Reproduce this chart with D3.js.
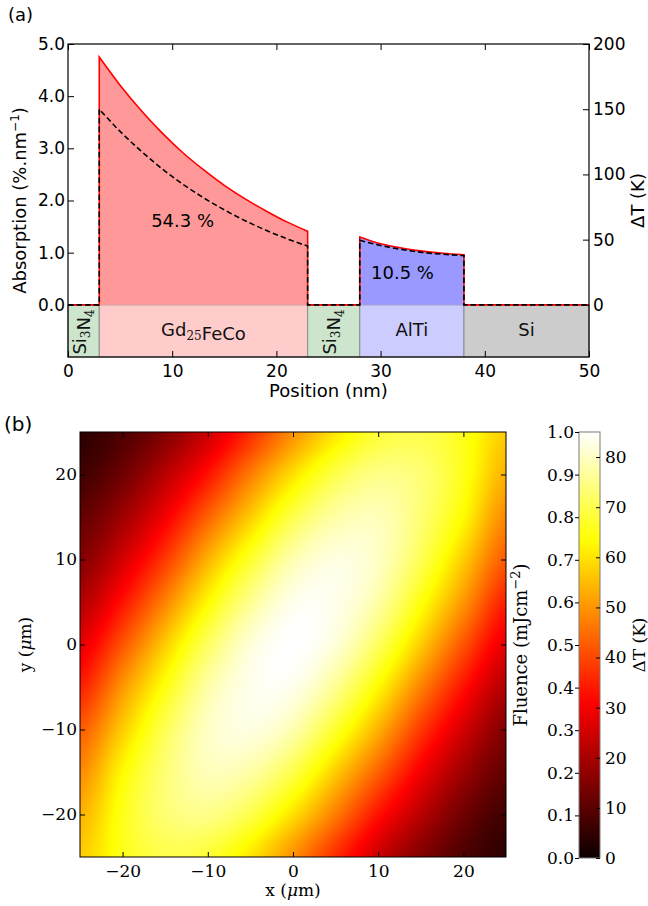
<!DOCTYPE html>
<html>
<head>
<meta charset="utf-8">
<script src="https://cdn.jsdelivr.net/npm/d3@7"></script>
<style>
body { margin: 0; background: #fff; }
svg { display: block; }
</style>
</head>
<body>
<div id="chart"></div>
<script>

// ---------- panel (a) data ----------
var layerNames = ["Si3N4", "Gd25FeCo", "Si3N4", "AlTi", "Si"];
var layerStart = [0, 3, 23, 28, 38];
var layerEnd = [3, 23, 28, 38, 50];

// absorption profile (%/nm) and temperature rise (K) inside the absorbing layers
var gdPos = [3, 5, 7, 9, 11, 13, 15, 17, 19, 21, 23];
var gdAbsorption = [4.75, 4.21, 3.73, 3.30, 2.92, 2.59, 2.29, 2.03, 1.80, 1.59, 1.41];
var gdDeltaT = [150, 133, 118, 104.5, 92.6, 82.1, 72.8, 64.5, 57.2, 50.7, 45.0];
var altiPos = [28, 30, 32, 34, 36, 38];
var altiAbsorption = [1.30, 1.17, 1.09, 1.03, 0.99, 0.96];
var altiDeltaT = [49.5, 45.5, 42.5, 40.2, 38.8, 37.8];
var absorbedTotals = ["54.3 %", "10.5 %"];

var absTicks = [0, 1, 2, 3, 4, 5];
var dTTicks = [0, 50, 100, 150, 200];
var posTicks = [0, 10, 20, 30, 40, 50];

// ---------- panel (b) data ----------
var gridX = [-25, -20, -15, -10, -5, 0, 5, 10, 15, 20, 25];
var gridY = [25, 20, 15, 10, 5, 0, -5, -10, -15, -20, -25];
// fluence (mJ/cm2), rows from y = 25 down to y = -25
var fluence = [
  [0.05, 0.10, 0.18, 0.29, 0.43, 0.58, 0.71, 0.80, 0.82, 0.77, 0.67],
  [0.08, 0.15, 0.26, 0.39, 0.55, 0.70, 0.82, 0.88, 0.86, 0.77, 0.63],
  [0.13, 0.22, 0.35, 0.51, 0.67, 0.82, 0.91, 0.93, 0.86, 0.74, 0.57],
  [0.18, 0.30, 0.45, 0.63, 0.79, 0.92, 0.97, 0.94, 0.83, 0.67, 0.50],
  [0.25, 0.39, 0.56, 0.74, 0.89, 0.98, 0.98, 0.91, 0.76, 0.59, 0.41],
  [0.33, 0.49, 0.67, 0.84, 0.96, 1.00, 0.96, 0.84, 0.67, 0.49, 0.33],
  [0.41, 0.59, 0.76, 0.91, 0.98, 0.98, 0.89, 0.74, 0.56, 0.39, 0.25],
  [0.50, 0.67, 0.83, 0.94, 0.97, 0.92, 0.79, 0.63, 0.45, 0.30, 0.18],
  [0.57, 0.74, 0.86, 0.93, 0.91, 0.82, 0.67, 0.51, 0.35, 0.22, 0.13],
  [0.63, 0.77, 0.86, 0.88, 0.82, 0.70, 0.55, 0.39, 0.26, 0.15, 0.08],
  [0.67, 0.77, 0.82, 0.80, 0.71, 0.58, 0.43, 0.29, 0.18, 0.10, 0.05]
];
var mapTicks = [-20, -10, 0, 10, 20];
var fluenceTicks = [0, 0.1, 0.2, 0.3, 0.4, 0.5, 0.6, 0.7, 0.8, 0.9, 1.0];
var cbarDeltaTTicks = [0, 10, 20, 30, 40, 50, 60, 70, 80];
var deltaTAtPeak = 85;

var sans = "DejaVu Sans", serif = "DejaVu Serif";

var svg = d3.select("#chart").append("svg")
  .attr("width", 648).attr("height", 906)
  .attr("font-family", sans);

// ================= panel (a) =================
var xA = d3.scaleLinear().domain([0, 50]).range([68, 589]);
var yA = d3.scaleLinear().domain([-1, 5]).range([357, 44]);
var yT = d3.scaleLinear().domain([-40, 200]).range([357, 44]);

var layerFill = {"Si3N4": "#cce5cc", "Gd25FeCo": "#ffcccc", "AlTi": "#ccccff", "Si": "#cccccc"};

var a = svg.append("g");

// layer stack under the zero line
a.selectAll("rect.layer")
  .data(layerNames)
  .enter().append("rect")
    .attr("class", "layer")
    .attr("x", function(d, i) { return xA(layerStart[i]); })
    .attr("y", yA(0))
    .attr("width", function(d, i) { return xA(layerEnd[i]) - xA(layerStart[i]); })
    .attr("height", yA(-1) - yA(0))
    .style("fill", function(d) { return layerFill[d]; })
    .style("stroke", "#8c8c8c")
    .style("stroke-width", 1);

var absorbers = [
  {pos: gdPos, abs: gdAbsorption, dT: gdDeltaT, fill: "#ff9999"},
  {pos: altiPos, abs: altiAbsorption, dT: altiDeltaT, fill: "#9999ff"}
];

// filled absorption areas
absorbers.forEach(function(L) {
  var area = d3.area()
    .x(function(d, i) { return xA(L.pos[i]); })
    .y0(yA(0))
    .y1(function(d) { return yA(d); })
    .curve(d3.curveMonotoneX);
  a.append("path")
    .attr("d", area(L.abs))
    .style("fill", L.fill)
    .style("stroke", "none");
});

var smooth = d3.line().curve(d3.curveMonotoneX);

// full profile: zero outside absorbers, vertical steps at interfaces
function profilePath(key, yScale) {
  var d = "M" + xA(0) + "," + yScale(0);
  absorbers.forEach(function(L) {
    var pts = L.pos.map(function(p, i) { return [xA(p), yScale(L[key][i])]; });
    d += "L" + pts[0][0] + "," + yScale(0);
    d += "L" + smooth(pts).slice(1);
    d += "L" + pts[pts.length - 1][0] + "," + yScale(0);
  });
  d += "L" + xA(50) + "," + yScale(0);
  return d;
}

a.append("path")
  .attr("d", profilePath("abs", yA))
  .style("fill", "none")
  .style("stroke", "#ff0000")
  .style("stroke-width", 1.6);

a.append("path")
  .attr("d", profilePath("dT", yT))
  .style("fill", "none")
  .style("stroke", "#000")
  .style("stroke-width", 1.6)
  .style("stroke-dasharray", "5.5,3");

// layer names
function subText(sel, parts) {
  parts.forEach(function(p) {
    if (p.sub) {
      sel.append("tspan").attr("font-family", serif).attr("font-size", 12)
        .attr("dy", 4).text(p.t);
      sel.append("tspan").attr("dy", -4).text("");
    } else {
      sel.append("tspan").text(p.t);
    }
  });
}
var layerParts = {
  "Si3N4": [{t: "Si"}, {t: "3", sub: true}, {t: "N"}, {t: "4", sub: true}],
  "Gd25FeCo": [{t: "Gd"}, {t: "25", sub: true}, {t: "FeCo"}],
  "AlTi": [{t: "AlTi"}],
  "Si": [{t: "Si"}]
};
layerNames.forEach(function(name, i) {
  var mid = (layerStart[i] + layerEnd[i]) / 2;
  var t = a.append("text")
    .attr("font-size", 18)
    .attr("text-anchor", "middle")
    .attr("fill", "#111");
  if (name === "Si3N4") {
    t.attr("transform", "translate(" + (xA(mid) + 2) + "," + 332 + ") rotate(-90)");
  } else {
    t.attr("x", xA(mid)).attr("y", 336);
  }
  subText(t, layerParts[name]);
});

// absorbed fractions
a.append("text").attr("x", xA(11)).attr("y", yA(1.5))
  .attr("text-anchor", "middle").attr("font-size", 18).text(absorbedTotals[0]);
a.append("text").attr("x", xA(32.1)).attr("y", yA(0.5))
  .attr("text-anchor", "middle").attr("font-size", 18).text(absorbedTotals[1]);

// axes, ticks inward
function styleAxis(g, font, size) {
  g.select(".domain").remove();
  g.attr("font-family", font).attr("font-size", size);
  g.selectAll(".tick line").attr("stroke", "#000").attr("stroke-width", 1);
  g.selectAll(".tick text").attr("fill", "#000");
}

a.append("g").attr("transform", "translate(" + xA(0) + ",0)")
  .call(d3.axisLeft(yA).tickValues(absTicks).tickFormat(d3.format(".1f"))
    .tickSizeInner(-6).tickSizeOuter(0).tickPadding(3))
  .call(styleAxis, sans, 17);

a.append("g").attr("transform", "translate(" + xA(50) + ",0)")
  .call(d3.axisRight(yT).tickValues(dTTicks)
    .tickSizeInner(-6).tickSizeOuter(0).tickPadding(4))
  .call(styleAxis, sans, 17);

a.append("g").attr("transform", "translate(0," + yA(-1) + ")")
  .call(d3.axisBottom(xA).tickValues(posTicks)
    .tickSizeInner(-6).tickSizeOuter(0).tickPadding(8))
  .call(styleAxis, sans, 17);

a.append("g").attr("transform", "translate(0," + yA(5) + ")")
  .call(d3.axisTop(xA).tickValues(posTicks).tickFormat("")
    .tickSizeInner(-6).tickSizeOuter(0))
  .call(styleAxis, sans, 17);

a.append("rect")
  .attr("x", xA(0)).attr("y", yA(5))
  .attr("width", xA(50) - xA(0)).attr("height", yA(-1) - yA(5))
  .style("fill", "none").style("stroke", "#000").style("stroke-width", 1.2);

// axis labels
var absLabel = a.append("text")
  .attr("transform", "translate(26," + yA(2) + ") rotate(-90)")
  .attr("text-anchor", "middle").attr("font-size", 18);
absLabel.append("tspan").text("Absorption (%.nm");
absLabel.append("tspan").attr("font-size", 12).attr("dy", -7).text("\u22121");
absLabel.append("tspan").attr("dy", 7).text(")");

a.append("text")
  .attr("transform", "translate(644," + yA(2) + ") rotate(-90)")
  .attr("text-anchor", "middle").attr("font-size", 18)
  .text("\u0394T (K)");

a.append("text").attr("x", (xA(0) + xA(50)) / 2).attr("y", 397)
  .attr("text-anchor", "middle").attr("font-size", 18).text("Position (nm)");

svg.append("text").attr("x", 8).attr("y", 21).attr("font-size", 18).text("(a)");

// ================= panel (b) =================
var xB = d3.scaleLinear().domain([-25, 25]).range([80, 506]);
var yB = d3.scaleLinear().domain([-25, 25]).range([857, 432]);

var hot = d3.scaleLinear()
  .domain([0, 0.365, 0.746, 1])
  .range(["#0b0000", "#ff0000", "#ffff00", "#ffffff"])
  .interpolate(d3.interpolateRgb)
  .clamp(true);

// grid index scales
var gxScale = d3.scaleLinear().domain([gridX[0], gridX[gridX.length - 1]]).range([0, gridX.length - 1]);
var gyScale = d3.scaleLinear().domain([gridY[0], gridY[gridY.length - 1]]).range([0, gridY.length - 1]);

function cr(p0, p1, p2, p3, t) {
  return p1 + 0.5 * t * (p2 - p0 + t * (2 * p0 - 5 * p1 + 4 * p2 - p3 + t * (3 * (p1 - p2) + p3 - p0)));
}
function cell(r, c) {
  r = Math.max(0, Math.min(fluence.length - 1, r));
  c = Math.max(0, Math.min(fluence[0].length - 1, c));
  return fluence[r][c];
}
// bicubic image resampling of the grid (like imshow interpolation)
function sampleFluence(x, y) {
  var gx = gxScale(x), gy = gyScale(y);
  var ix = Math.min(Math.floor(gx), gridX.length - 2), iy = Math.min(Math.floor(gy), gridY.length - 2);
  var tx = gx - ix, ty = gy - iy;
  var rows = [];
  for (var k = -1; k <= 2; k++) {
    rows.push(cr(cell(iy + k, ix - 1), cell(iy + k, ix), cell(iy + k, ix + 1), cell(iy + k, ix + 2), tx));
  }
  return cr(rows[0], rows[1], rows[2], rows[3], ty);
}

var imgW = Math.round(xB(25) - xB(-25)), imgH = Math.round(yB(-25) - yB(25));
var canvas = document.createElement("canvas");
canvas.width = imgW; canvas.height = imgH;
var ctx = canvas.getContext("2d");
var img = ctx.createImageData(imgW, imgH);
for (var j = 0; j < imgH; j++) {
  var yv = yB.invert(yB(25) + j + 0.5);
  for (var i = 0; i < imgW; i++) {
    var xv = xB.invert(xB(-25) + i + 0.5);
    var c = d3.rgb(hot(sampleFluence(xv, yv)));
    var o = (j * imgW + i) * 4;
    img.data[o] = c.r; img.data[o + 1] = c.g; img.data[o + 2] = c.b; img.data[o + 3] = 255;
  }
}
ctx.putImageData(img, 0, 0);

var b = svg.append("g");
b.append("image")
  .attr("x", xB(-25)).attr("y", yB(25))
  .attr("width", imgW).attr("height", imgH)
  .attr("preserveAspectRatio", "none")
  .attr("href", canvas.toDataURL());

b.append("g").attr("transform", "translate(0," + yB(-25) + ")")
  .call(d3.axisBottom(xB).tickValues(mapTicks).tickFormat(d3.format("d"))
    .tickSizeInner(-5).tickSizeOuter(0).tickPadding(8))
  .call(styleAxis, serif, 17);
b.append("g").attr("transform", "translate(0," + yB(25) + ")")
  .call(d3.axisTop(xB).tickValues(mapTicks).tickFormat("")
    .tickSizeInner(-5).tickSizeOuter(0))
  .call(styleAxis, serif, 17);
b.append("g").attr("transform", "translate(" + xB(-25) + ",0)")
  .call(d3.axisLeft(yB).tickValues(mapTicks).tickFormat(d3.format("d"))
    .tickSizeInner(-5).tickSizeOuter(0).tickPadding(3))
  .call(styleAxis, serif, 17);
b.append("g").attr("transform", "translate(" + xB(25) + ",0)")
  .call(d3.axisRight(yB).tickValues(mapTicks).tickFormat("")
    .tickSizeInner(-5).tickSizeOuter(0))
  .call(styleAxis, serif, 17);

b.append("rect")
  .attr("x", xB(-25)).attr("y", yB(25))
  .attr("width", xB(25) - xB(-25)).attr("height", yB(-25) - yB(25))
  .style("fill", "none").style("stroke", "#000").style("stroke-width", 1);

var xl = b.append("text").attr("x", (xB(-25) + xB(25)) / 2).attr("y", 896)
  .attr("text-anchor", "middle").attr("font-family", serif).attr("font-size", 17);
xl.append("tspan").text("x (");
xl.append("tspan").attr("font-style", "italic").text("\u03bc");
xl.append("tspan").text("m)");

var yl = b.append("text").attr("transform", "translate(31," + yB(0) + ") rotate(-90)")
  .attr("text-anchor", "middle").attr("font-family", serif).attr("font-size", 17);
yl.append("tspan").text("y (");
yl.append("tspan").attr("font-style", "italic").text("\u03bc");
yl.append("tspan").text("m)");

svg.append("text").attr("x", 4).attr("y", 431).attr("font-size", 20).text("(b)");

// colour bar
var cbFluence = d3.scaleLinear().domain([0, 1]).range([858, 432]);
var cbDeltaT = d3.scaleLinear().domain([0, deltaTAtPeak]).range([858, 432]);
var cbX0 = 579, cbX1 = 600;

var grad = svg.append("defs").append("linearGradient")
  .attr("id", "hotGrad").attr("x1", 0).attr("y1", 1).attr("x2", 0).attr("y2", 0);
grad.selectAll("stop")
  .data(d3.range(0, 1.0001, 0.02))
  .enter().append("stop")
    .attr("offset", function(d) { return d; })
    .attr("stop-color", function(d) { return hot(d); });

b.append("rect")
  .attr("x", cbX0).attr("y", cbFluence(1))
  .attr("width", cbX1 - cbX0).attr("height", cbFluence(0) - cbFluence(1))
  .style("fill", "url(#hotGrad)")
  .style("stroke", "#7a7a7a").style("stroke-width", 1);

b.append("g").attr("transform", "translate(" + cbX0 + ",0)")
  .call(d3.axisLeft(cbFluence).tickValues(fluenceTicks).tickFormat(d3.format(".1f"))
    .tickSizeInner(4).tickSizeOuter(0).tickPadding(1))
  .call(styleAxis, serif, 17);
b.append("g").attr("transform", "translate(" + cbX1 + ",0)")
  .call(d3.axisRight(cbDeltaT).tickValues(cbarDeltaTTicks)
    .tickSizeInner(-4).tickSizeOuter(0).tickPadding(5))
  .call(styleAxis, serif, 17);

var fl = b.append("text").attr("transform", "translate(527," + cbFluence(0.5) + ") rotate(-90)")
  .attr("text-anchor", "middle").attr("font-family", serif).attr("font-size", 18);
fl.append("tspan").text("Fluence (mJcm");
fl.append("tspan").attr("font-size", 13).attr("dy", -7).text("\u22122");
fl.append("tspan").attr("dy", 7).text(")");

b.append("text").attr("transform", "translate(645," + cbFluence(0.5) + ") rotate(-90)")
  .attr("text-anchor", "middle").attr("font-family", serif).attr("font-size", 17)
  .text("\u0394T (K)");

</script>
</body>
</html>
